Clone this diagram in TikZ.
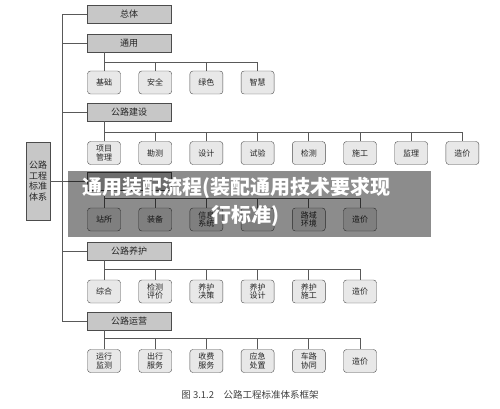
\documentclass[tikz,border=0pt]{standalone}
\usepackage{fontspec}
\setmainfont{Noto Sans CJK SC}
\usetikzlibrary{positioning,calc}

\tikzset{
  hdbox/.style={draw=black!70, fill=black!22, minimum width=84pt, minimum height=18pt,
    inner sep=0pt, text=black!85, font=\fontsize{9}{10}\selectfont},
  leafbox/.style={draw=black!70, fill=black!9, rounded corners=3pt, minimum width=33pt,
    minimum height=23pt, inner sep=0pt, align=center, text=black!85,
    font=\fontsize{8}{8.6}\selectfont},
  link/.style={draw=black!65, line width=0.8pt},
  ovtext/.style={text=white, font=\fontsize{20}{22}\selectfont\bfseries, inner sep=0pt}
}

\begin{document}
\begin{tikzpicture}[x=1pt,y=-1pt]
    \useasboundingbox (0,0) rectangle (500,409);
    \coordinate (trunk) at (62,0);

    % 左侧总框
    \node[hdbox, minimum width=24pt, minimum height=78pt, align=center,
      font=\fontsize{9}{10.6}\selectfont] (bz) at (38,181) {公路\\工程\\标准\\体系};

    % 板块
    \node[hdbox] (zt) at (129,14) {总体};
    \node[hdbox] (ty) at (129,43) {通用};
    \node[hdbox] (js) at (129,112) {公路建设};
    \node[hdbox] (gl) at (129,181) {};
    \node[hdbox] (yh) at (129,251) {公路养护};
    \node[hdbox] (yy) at (129,321) {公路运营};

    % 主干
    \draw[link] (zt.west) -- (zt.west -| trunk) -- (yy.west -| trunk) -- (yy.west);
    \foreach \h in {ty,js,gl,yh} \draw[link] (\h.west) -- (\h.west -| trunk);
    \draw[link] (bz.east) -- (bz.east -| trunk);

    % 通用
    \coordinate (tybus) at (0,62);
    \foreach \t [count=\i] in {基础,安全,绿色,智慧}
      \node[leafbox] (ty\i) at ({104+51.2*(\i-1)},82.5) {\t};
    \draw[link] (ty.south -| ty1) -- (ty1.north);
    \draw[link] (ty1.north |- tybus) -| (ty4.north);
    \foreach \i in {2,3} \draw[link] (ty\i.north) -- (ty\i.north |- tybus);

    % 公路建设
    \coordinate (jsbus) at (0,132);
    \foreach \t [count=\i] in {{项目\\管理},勘测,设计,试验,检测,施工,监理,造价}
      \node[leafbox] (js\i) at ({104+51.2*(\i-1)},153) {\t};
    \draw[link] (js.south -| js1) -- (js1.north);
    \draw[link] (js1.north |- jsbus) -| (js8.north);
    \foreach \i in {2,...,7} \draw[link] (js\i.north) -- (js\i.north |- jsbus);

    % 公路管理
    \coordinate (glbus) at (0,198);
    \foreach \t [count=\i] in {站所,装备,{信息\\系统},{},{路域\\环境},造价}
      \node[leafbox] (gl\i) at ({104+51.2*(\i-1)},219.5) {\t};
    \draw[link] (gl.south -| gl1) -- (gl1.north);
    \draw[link] (gl1.north |- glbus) -| (gl6.north);
    \foreach \i in {2,...,5} \draw[link] (gl\i.north) -- (gl\i.north |- glbus);

    % 公路养护
    \coordinate (yhbus) at (0,269);
    \foreach \t [count=\i] in {综合,{检测\\评价},{养护\\决策},{养护\\设计},{养护\\施工},造价}
      \node[leafbox] (yh\i) at ({104+51.2*(\i-1)},291.5) {\t};
    \draw[link] (yh.south -| yh1) -- (yh1.north);
    \draw[link] (yh1.north |- yhbus) -| (yh6.north);
    \foreach \i in {2,...,5} \draw[link] (yh\i.north) -- (yh\i.north |- yhbus);

    % 公路运营
    \coordinate (yybus) at (0,338);
    \foreach \t [count=\i] in {{运行\\监测},{出行\\服务},{收费\\服务},{应急\\处置},{车路\\协同},造价}
      \node[leafbox] (yy\i) at ({104+51.2*(\i-1)},361) {\t};
    \draw[link] (yy.south -| yy1) -- (yy1.north);
    \draw[link] (yy1.north |- yybus) -| (yy6.north);
    \foreach \i in {2,...,5} \draw[link] (yy\i.north) -- (yy\i.north |- yybus);

    % 图题
    \node[text=black!75, font=\fontsize{9.5}{11}\selectfont] (cap) at (250,395)
      {图 3.1.2\hspace{1em}公路工程标准体系框架};

    % 水印横幅
    \node[fill=black, fill opacity=0.45, minimum width=363pt, minimum height=66pt,
      inner sep=0pt] (ovbg) at (249.5,204) {};
    \node[ovtext] (ovt1) at (236,188) {通用装配流程(装配通用技术要求现};
    \node[ovtext] (ovt2) at (245,216) {行标准)};
\end{tikzpicture}
\end{document}
